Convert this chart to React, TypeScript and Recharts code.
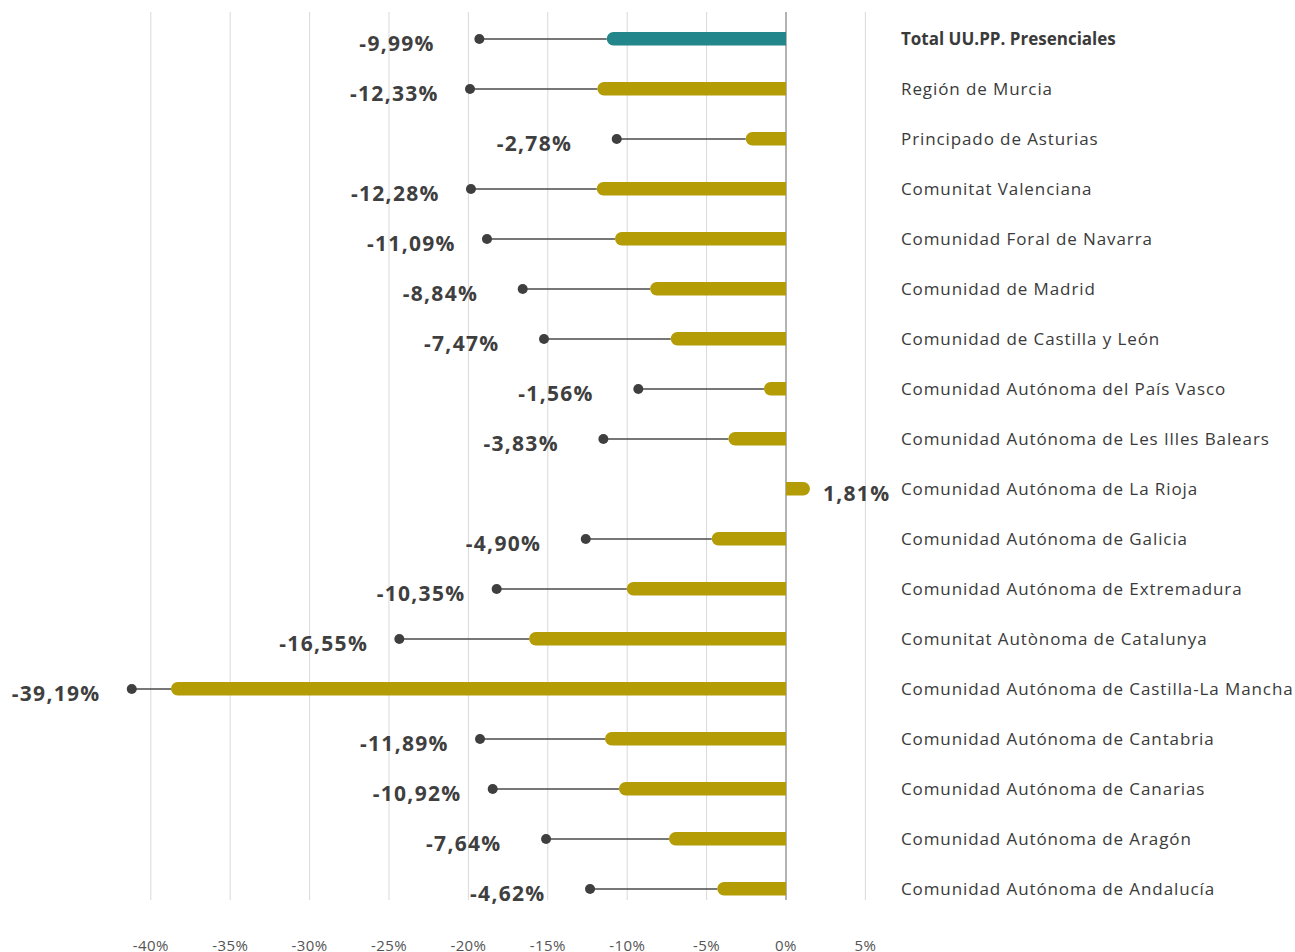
import React from 'react';
import {
  BarChart,
  Bar,
  XAxis,
  YAxis,
  CartesianGrid,
  ReferenceLine,
  ReferenceDot,
  LabelList,
} from 'recharts';

const categories = [
  'Total UU.PP. Presenciales',
  'Región de Murcia',
  'Principado de Asturias',
  'Comunitat Valenciana',
  'Comunidad Foral de Navarra',
  'Comunidad de Madrid',
  'Comunidad de Castilla y León',
  'Comunidad Autónoma del País Vasco',
  'Comunidad Autónoma de Les Illes Balears',
  'Comunidad Autónoma de La Rioja',
  'Comunidad Autónoma de Galicia',
  'Comunidad Autónoma de Extremadura',
  'Comunitat Autònoma de Catalunya',
  'Comunidad Autónoma de Castilla-La Mancha',
  'Comunidad Autónoma de Cantabria',
  'Comunidad Autónoma de Canarias',
  'Comunidad Autónoma de Aragón',
  'Comunidad Autónoma de Andalucía',
];

// bar lengths as drawn
const barValues = [
  -11.29, -11.88, -2.54, -11.92, -10.77, -8.56, -7.26, -1.39, -3.63, 1.51,
  -4.68, -10.03, -16.18, -38.73, -11.4, -10.52, -7.37, -4.33,
];

// end points of the thin lines (null = no dot)
const dotValues: (number | null)[] = [
  -19.31, -19.9, -10.66, -19.84, -18.83, -16.58, -15.24, -9.3, -11.5, null,
  -12.61, -18.22, -24.35, -41.2, -19.27, -18.47, -15.11, -12.34,
];

const valueLabels = [
  '-9,99%', '-12,33%', '-2,78%', '-12,28%', '-11,09%', '-8,84%', '-7,47%',
  '-1,56%', '-3,83%', '1,81%', '-4,90%', '-10,35%', '-16,55%', '-39,19%',
  '-11,89%', '-10,92%', '-7,64%', '-4,62%',
];

const xTicks = [-40, -35, -30, -25, -20, -15, -10, -5, 0, 5];

const data = categories.map((name, i) => ({
  name,
  bar: barValues[i],
  dot: dotValues[i],
  label: valueLabels[i],
  total: i === 0,
}));

const FONT = '"Open Sans", sans-serif';
const TEAL = '#22868B';
const OLIVE = '#B39C05';
const DARK = '#3f3f3f';

const RoundBar = (props: any) => {
  const { x, y, width, height, payload } = props;
  const x0 = Math.min(x, x + width);
  const w = Math.abs(width);
  const h = height;
  const r = h / 2;
  const fill = payload.total ? TEAL : OLIVE;
  const d =
    payload.bar < 0
      ? `M${x0 + w},${y} L${x0 + r},${y} A${r},${r} 0 0 0 ${x0 + r},${y + h} L${x0 + w},${y + h} Z`
      : `M${x0},${y} L${x0 + w - r},${y} A${r},${r} 0 0 1 ${x0 + w - r},${y + h} L${x0},${y + h} Z`;
  return <path d={d} fill={fill} />;
};

const CategoryTick = (props: any) => {
  const { x, y, payload, index } = props;
  const bold = index === 0;
  return (
    <text
      x={x}
      y={y + 5.6}
      textAnchor="start"
      fontFamily={FONT}
      fontSize={17}
      fontWeight={bold ? 700 : 400}
      letterSpacing={bold ? 0 : 0.9}
      fill="#3a3a3a"
    >
      {payload.value}
    </text>
  );
};

const PercentTick = (props: any) => {
  const { x, y, payload } = props;
  return (
    <text
      x={x}
      y={y + 36.5}
      textAnchor="middle"
      fontFamily={FONT}
      fontSize={15}
      letterSpacing={0.4}
      fill="#555"
    >
      {`${payload.value}%`}
    </text>
  );
};

const GridLine = (p: any) => {
  if (p.index === undefined || p.index >= xTicks.length) return <g />;
  const zero = xTicks[p.index] === 0;
  return (
    <line
      x1={p.x1}
      y1={p.y1}
      x2={p.x2}
      y2={p.y2}
      stroke={zero ? '#9a9a9a' : '#d9d9d9'}
      strokeWidth={zero ? 1.5 : 1}
    />
  );
};

const labelStyle = {
  fontFamily: FONT,
  fontSize: 21,
  fontWeight: 700,
  letterSpacing: 1.3,
  fill: DARK,
};

const PositiveLabel = (props: any) => {
  const { x, y, width, height, index } = props;
  const row = data[index];
  if (row.dot !== null) return null;
  return (
    <text x={x + width + 13} y={y + height / 2 + 12} textAnchor="start" {...labelStyle}>
      {row.label}
    </text>
  );
};

const App: React.FC = () => {
  return (
    <div style={{ width: 1295, height: 952 }}>
      <style>{'html,body{margin:0;overflow:hidden;}'}</style>
      <BarChart
        width={1295}
        height={952}
        data={data}
        layout="vertical"
        margin={{ top: 14, right: 0, left: 71.4, bottom: 0 }}
      >
        <CartesianGrid horizontal={false} vertical={GridLine} y={12} height={888} />
        <XAxis
          type="number"
          domain={[-45, 5]}
          ticks={xTicks}
          axisLine={false}
          tickLine={false}
          tickSize={0}
          tickMargin={0}
          height={38}
          tick={PercentTick}
        />
        <YAxis
          type="category"
          dataKey="name"
          orientation="right"
          width={429.6}
          axisLine={false}
          tickLine={false}
          tickSize={0}
          tickMargin={35.6}
          interval={0}
          tick={CategoryTick}
        />
        {data
          .filter((d) => d.dot !== null)
          .map((d) => (
            <ReferenceLine
              key={`l-${d.name}`}
              segment={[
                { x: d.dot as number, y: d.name },
                { x: d.bar, y: d.name },
              ]}
              stroke="#4a4a4a"
              strokeWidth={1.5}
            />
          ))}
        <Bar dataKey="bar" barSize={13.4} shape={RoundBar} isAnimationActive={false}>
          <LabelList dataKey="label" content={PositiveLabel} />
        </Bar>
        {data
          .filter((d) => d.dot !== null)
          .map((d) => (
            <ReferenceDot
              key={`d-${d.name}`}
              x={d.dot as number}
              y={d.name}
              r={5}
              shape={(p: any) => (
                <g>
                  <circle cx={p.cx} cy={p.cy} r={5} fill={DARK} />
                  <text x={p.cx - 120} y={p.cy + 11.5} textAnchor="start" {...labelStyle}>
                    {d.label}
                  </text>
                </g>
              )}
            />
          ))}
      </BarChart>
    </div>
  );
};

export default App;
